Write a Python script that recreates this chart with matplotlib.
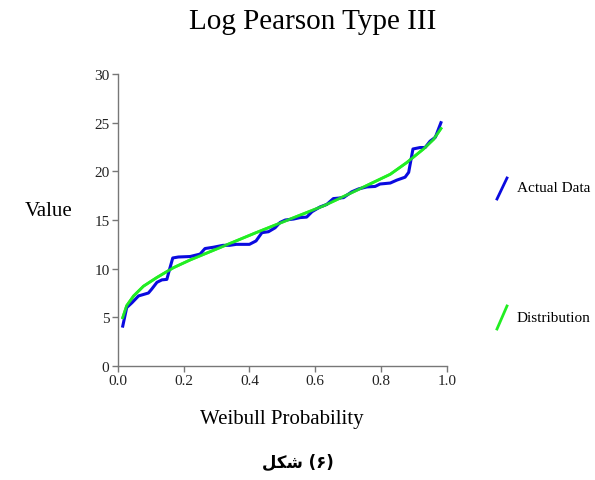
import matplotlib.pyplot as plt
from matplotlib.lines import Line2D

actual_p = [0.015, 0.027, 0.043, 0.063, 0.093, 0.103, 0.119, 0.134, 0.149, 0.157,
            0.167, 0.184, 0.22, 0.25, 0.265, 0.29, 0.32, 0.34, 0.36, 0.40,
            0.42, 0.438, 0.458, 0.478, 0.493, 0.509, 0.534, 0.554, 0.574, 0.59,
            0.615, 0.635, 0.655, 0.686, 0.711, 0.732, 0.757, 0.782, 0.797, 0.828,
            0.848, 0.873, 0.884, 0.897, 0.919, 0.934, 0.949, 0.965, 0.982]
actual_v = [4.1, 6.0, 6.5, 7.2, 7.5, 7.9, 8.6, 8.85, 8.9, 9.9,
            11.1, 11.2, 11.25, 11.5, 12.07, 12.2, 12.4, 12.4, 12.5, 12.5,
            12.85, 13.7, 13.8, 14.2, 14.75, 15.0, 15.1, 15.25, 15.3, 15.85,
            16.35, 16.6, 17.2, 17.3, 17.9, 18.2, 18.4, 18.45, 18.7, 18.8,
            19.1, 19.4, 19.9, 22.3, 22.45, 22.45, 23.1, 23.5, 25.0]

# fitted log pearson type III curve
dist_p = [0.015, 0.027, 0.048, 0.078, 0.119, 0.169, 0.22, 0.32, 0.42, 0.524,
          0.625, 0.726, 0.828, 0.878, 0.929, 0.96, 0.982]
dist_v = [4.97, 6.2, 7.2, 8.2, 9.1, 10.1, 10.9, 12.3, 13.7, 15.1,
          16.45, 18.05, 19.7, 20.9, 22.3, 23.3, 24.4]

xticks = [0.0, 0.2, 0.4, 0.6, 0.8, 1.0]
yticks = [0, 5, 10, 15, 20, 25, 30]

serif = 'Liberation Serif'

fig = plt.figure(figsize=(5.95, 4.81), dpi=100)
ax = fig.add_axes([0.198, 0.237, 0.553, 0.607])

ax.plot(dist_p, dist_v, color='#22ee22', lw=2.0, zorder=2)
ax.plot(actual_p, actual_v, color='#0a0adf', lw=2.2, zorder=3)
ax.plot(dist_p, dist_v, color='#22ee22', lw=2.0, zorder=4, alpha=0.9)

ax.set_xlim(0, 1)
ax.set_ylim(0, 30)
ax.set_xticks(xticks)
ax.set_xticklabels(['%.1f' % t for t in xticks])
ax.set_yticks(yticks)
for s in ['top', 'right']:
    ax.spines[s].set_visible(False)
for s in ['left', 'bottom']:
    ax.spines[s].set_color('#777777')
    ax.spines[s].set_linewidth(1.0)
ax.tick_params(direction='out', length=4, width=1, color='#777777',
               labelsize=11, labelcolor='#222222', pad=2)
for lab in ax.get_xticklabels() + ax.get_yticklabels():
    lab.set_family(serif)

fig.text(0.525, 0.955, 'Log Pearson Type III', ha='center', va='center',
         family=serif, fontsize=21)
fig.text(0.081, 0.56, 'Value', ha='center', va='center', family=serif, fontsize=15)
fig.text(0.474, 0.127, 'Weibull Probability', ha='center', va='center',
         family=serif, fontsize=15)

# legend drawn as slanted strokes like the original
fig.add_artist(Line2D([497 / 595, 507 / 595], [1 - 200 / 481, 1 - 179 / 481],
                      color='#0a0adf', lw=2.0))
fig.add_artist(Line2D([497 / 595, 507 / 595], [1 - 330 / 481, 1 - 307 / 481],
                      color='#22ee22', lw=2.0))
fig.text(517 / 595, 1 - 189 / 481, 'Actual Data', ha='left', va='center',
         family=serif, fontsize=11)
fig.text(517 / 595, 1 - 318 / 481, 'Distribution', ha='left', va='center',
         family=serif, fontsize=11)

# caption (arabic presentation forms in visual order)
fig.text(0.50, 1 - 463 / 481, '\uFEDE\uFEDC\uFEB7 (\u06F6)', ha='center',
         va='center', family=['DejaVu Sans'], fontsize=12, fontweight='bold')

fig.savefig('out.png', dpi=100)
